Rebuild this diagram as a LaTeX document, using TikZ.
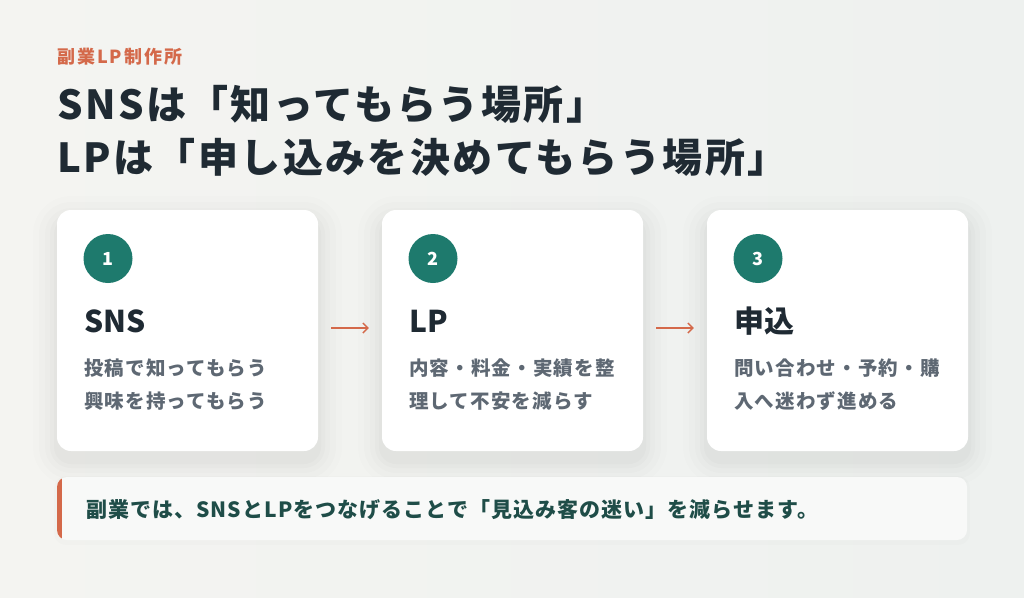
\documentclass[tikz,border=0pt]{standalone}
\usepackage{fontspec}
\setmainfont{Noto Sans CJK JP}
\usetikzlibrary{arrows.meta}
\definecolor{bgL}{HTML}{F4F4F1}
\definecolor{bgR}{HTML}{EEF1EF}
\definecolor{accent}{HTML}{D4694A}
\definecolor{ink}{HTML}{1F2A33}
\definecolor{teal}{HTML}{1E7A6D}
\definecolor{bodyc}{HTML}{5E6873}
\definecolor{notec}{HTML}{1F4D48}
\definecolor{notebg}{HTML}{F8F9F8}
\tikzset{
  card/.style={fill=white, rounded corners=14pt, minimum width=261pt, minimum height=241pt, inner sep=0pt, draw=none},
  numc/.style={circle, fill=teal, minimum size=49pt, inner sep=0pt, text=white, font=\fontsize{18}{20}\selectfont\bfseries},
  ctitle/.style={anchor=base west, inner sep=0pt, text=ink, font=\fontsize{30}{36}\selectfont\bfseries},
  bodytxt/.style={anchor=base west, inner sep=0pt, text=bodyc, font=\fontsize{19.5}{24}\selectfont\bfseries\addfontfeature{LetterSpace=6}},
  flow/.style={draw=accent, line width=1.4pt, -{Straight Barb[length=5pt,width=10pt]}, shorten <=13pt, shorten >=13pt},
}
\begin{document}
\begin{tikzpicture}[x=1pt,y=-1pt]
\useasboundingbox (0,0) rectangle (1024,597);
\fill[left color=bgL, right color=bgR] (0,0) rectangle (1024,597);

% header
\node[anchor=base west, inner sep=0pt, text=accent, font=\fontsize{18}{20}\selectfont\bfseries\addfontfeature{LetterSpace=11}] (label) at (57,63) {副業LP制作所};
\node[anchor=base west, inner sep=0pt, text=ink, font=\fontsize{40}{48}\selectfont\bfseries\addfontfeature{LetterSpace=6}] (title1) at (57,119) {SNSは「知ってもらう場所」};
\node[anchor=base west, inner sep=0pt, text=ink, font=\fontsize{40}{48}\selectfont\bfseries\addfontfeature{LetterSpace=6}] (title2) at (57,172) {LPは「申し込みを決めてもらう場所」};

% shadows
\foreach \cx in {187.5,512.5,837.5}{
  \foreach \s/\o in {24/0.008,18/0.01,12/0.012,7/0.014,3/0.016}{
    \fill[black, opacity=\o, rounded corners=14pt+\s pt]
      (\cx-130.5-\s, 210-\s+10) rectangle (\cx+130.5+\s, 451+\s+10);
  }
}

% cards
\node[card] (c1) at (187.5,330.5) {};
\node[card] (c2) at (512.5,330.5) {};
\node[card] (c3) at (837.5,330.5) {};

% card 1
\node[numc] (n1) at (108,258.5) {1};
\node[ctitle] (t1) at (84,332) {SNS};
\node[bodytxt] (b1a) at (84,375) {投稿で知ってもらう};
\node[bodytxt] (b1b) at (84,408) {興味を持ってもらう};
% card 2
\node[numc] (n2) at (433,258.5) {2};
\node[ctitle] (t2) at (409,332) {LP};
\node[bodytxt] (b2a) at (409,375) {内容・料金・実績を整};
\node[bodytxt] (b2b) at (409,408) {理して不安を減らす};
% card 3
\node[numc] (n3) at (758,258.5) {3};
\node[ctitle] (t3) at (734,332) {申込};
\node[bodytxt] (b3a) at (734,375) {問い合わせ・予約・購};
\node[bodytxt] (b3b) at (734,408) {入へ迷わず進める};

% arrows
\draw[flow] ([yshift=2.5pt]c1.east) -- ([yshift=2.5pt]c2.west);
\draw[flow] ([yshift=2.5pt]c2.east) -- ([yshift=2.5pt]c3.west);

% note bar
\fill[black, opacity=0.012, rounded corners=12pt] (54,476) rectangle (970,545);
\node[fill=notebg, rounded corners=10pt, minimum width=910pt, minimum height=63pt, inner sep=0pt] (note) at (512,508.5) {};
\begin{scope}
  \clip[rounded corners=10pt] (57,477) rectangle (967,540);
  \fill[accent] (57,477) rectangle (62,540);
\end{scope}
\node[anchor=base west, inner sep=0pt, text=notec, font=\fontsize{21}{24}\selectfont\bfseries\addfontfeature{LetterSpace=5}] (notetxt) at (86,517) {副業では、SNSとLPをつなげることで「見込み客の迷い」を減らせます。};
\end{tikzpicture}
\end{document}
